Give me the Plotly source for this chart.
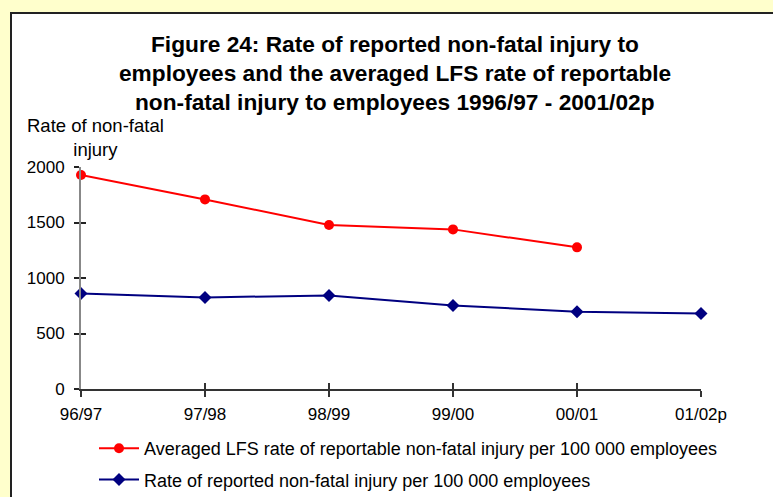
import plotly.graph_objects as go

categories = ["96/97", "97/98", "98/99", "99/00", "00/01", "01/02p"]
lfs_rate = [1928, 1708, 1477, 1438, 1276]
reported_rate = [861, 825, 843, 753, 696, 681]
y_ticks = [0, 500, 1000, 1500, 2000]

title_lines = [
    "Figure 24: Rate of reported non-fatal injury to",
    "employees and the averaged LFS rate of reportable",
    "non-fatal injury to employees 1996/97 - 2001/02p",
]
y_title = "Rate of non-fatal<br>injury"
lfs_name = "Averaged LFS rate of reportable non-fatal injury per 100 000 employees"
rep_name = "Rate of reported non-fatal injury per 100 000 employees"

W, H = 773, 497
L, R, T, B = 81, 72, 167, 108
PW, PH = W - L - R, H - T - B

def px(p):
    return (p - L) / PW

def py(q):
    return (H - B - q) / PH

FONT = "Arial, 'Liberation Sans', sans-serif"

fig = go.Figure()
fig.add_trace(go.Scatter(
    x=categories[:len(lfs_rate)], y=lfs_rate, name=lfs_name, mode="lines+markers",
    line=dict(color="#FF0000", width=2), marker=dict(symbol="circle", size=10, color="#FF0000"),
    legendgroup="a", cliponaxis=False,
))
fig.add_trace(go.Scatter(
    x=categories, y=reported_rate, name=rep_name, mode="lines+markers",
    line=dict(color="#000080", width=2), marker=dict(symbol="diamond", size=10, color="#000080"),
    legendgroup="b", cliponaxis=False,
))

annotations = []
for i, t in enumerate(title_lines):
    annotations.append(dict(
        text=t, xref="paper", yref="paper", x=px(395), y=py(44 + 29 * i),
        xanchor="center", yanchor="middle", showarrow=False,
        font=dict(family=FONT, size=22.7, color="black", weight="bold"),
    ))
annotations.append(dict(
    text=y_title, xref="paper", yref="paper", x=px(95), y=py(137),
    xanchor="center", yanchor="middle", showarrow=False, align="center",
    font=dict(family=FONT, size=18.5, color="black"),
))

fig.update_layout(
    width=W, height=H,
    margin=dict(l=L, r=R, t=T, b=B, pad=0, autoexpand=False),
    paper_bgcolor="#FFFFCC", plot_bgcolor="white",
    font=dict(family=FONT, size=17, color="black"),
    showlegend=True,
    legend=dict(
        x=px(94), y=py(430), xanchor="left", yanchor="top",
        bgcolor="rgba(0,0,0,0)", traceorder="grouped", tracegroupgap=5,
        font=dict(family=FONT, size=18, color="black"), itemwidth=40,
    ),
    annotations=annotations,
    shapes=[dict(
        type="rect", xref="paper", yref="paper", layer="below",
        x0=px(11), x1=px(800), y0=py(13), y1=py(540),
        fillcolor="white", line=dict(color="#222222", width=2),
    )],
    xaxis=dict(
        type="category", range=[0, 5], showgrid=False, zeroline=False,
        showline=True, linecolor="#333333", linewidth=1.5,
        ticks="outside", ticklen=6, tickcolor="#333333", tickwidth=1.5,
        tickfont=dict(family=FONT, size=17, color="black"), ticklabelstandoff=3,
    ),
    yaxis=dict(
        range=[0, 2000], tickvals=y_ticks, showgrid=False, zeroline=False,
        showline=True, linecolor="#888888", linewidth=2,
        ticks="outside", ticklen=5, tickcolor="#222222", tickwidth=1.5,
        tickfont=dict(family=FONT, size=17, color="black"), ticklabelstandoff=6,
    ),
    xaxis2=dict(
        overlaying="x", anchor="y", range=[0, 5], tickvals=list(range(len(categories))),
        showticklabels=False, showgrid=False, zeroline=False, showline=False,
        ticks="inside", ticklen=6, tickcolor="#333333", tickwidth=1.5, side="bottom",
    ),
    yaxis2=dict(
        overlaying="y", anchor="x", range=[0, 2000], tickvals=y_ticks,
        showticklabels=False, showgrid=False, zeroline=False, showline=False,
        ticks="inside", ticklen=5, tickcolor="#222222", tickwidth=1.5, side="left",
    ),
)
fig.add_trace(go.Scatter(x=[None], y=[None], xaxis="x2", yaxis="y2", showlegend=False, hoverinfo="skip"))

fig.write_html("out.html", config={"displayModeBar": False},
               post_script="document.body.style.margin='0';")
